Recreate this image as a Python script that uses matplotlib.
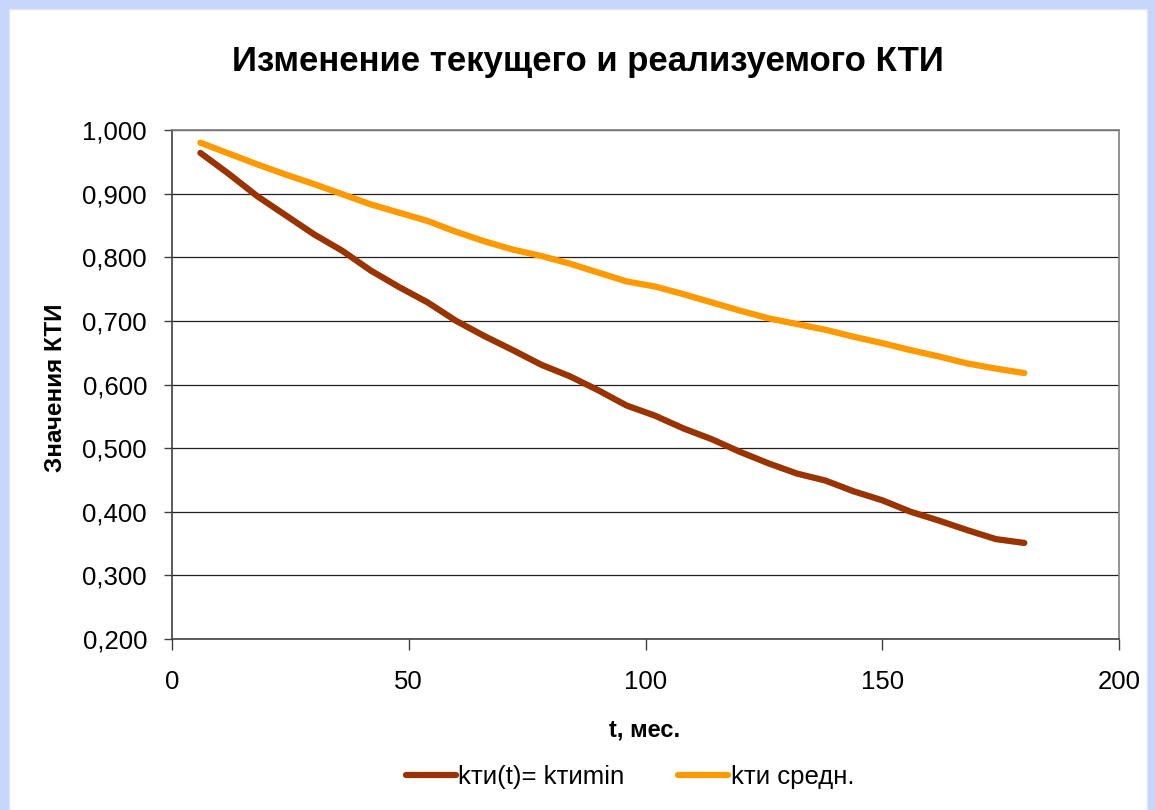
import matplotlib
matplotlib.use("Agg")
import matplotlib.pyplot as plt
from matplotlib.patches import Rectangle
from matplotlib.ticker import FuncFormatter, MultipleLocator

plt.rcParams['font.family'] = ['Liberation Sans', 'DejaVu Sans']

# Months of operation
t_months = [6, 12, 18, 24, 30, 36, 42, 48, 54, 60,
            66, 72, 78, 84, 90, 96, 102, 108, 114, 120,
            126, 132, 138, 144, 150, 156, 162, 168, 174, 180]

# Current KTI, k(t) = k_min
kti_min = [0.964, 0.931, 0.896, 0.866, 0.836, 0.810, 0.779, 0.753, 0.729, 0.700,
           0.676, 0.654, 0.631, 0.613, 0.591, 0.567, 0.551, 0.531, 0.514, 0.494,
           0.476, 0.460, 0.449, 0.432, 0.418, 0.400, 0.386, 0.371, 0.357, 0.351]

# Realised (average) KTI
kti_avg = [0.980, 0.963, 0.946, 0.930, 0.915, 0.899, 0.883, 0.870, 0.857, 0.840,
           0.825, 0.812, 0.802, 0.790, 0.776, 0.762, 0.754, 0.742, 0.729, 0.716,
           0.704, 0.695, 0.686, 0.675, 0.665, 0.654, 0.644, 0.633, 0.625, 0.618]

series_labels = ['kти(t)= kтиmin', 'kти средн.']
title_text = 'Изменение текущего и реализуемого КТИ'
x_label = 't, мес.'
y_label = 'Значения КТИ'

W, H = 1155, 810
fig = plt.figure(figsize=(W / 100, H / 100), dpi=100, facecolor='#C6D6FA')
# white chart sheet inside the blue frame
fig.patches.append(Rectangle((9 / W, 0), (1147 - 9) / W, (H - 9) / H,
                             transform=fig.transFigure, facecolor='white',
                             edgecolor='#DCE6FC', linewidth=1.0, zorder=-5))

ax = fig.add_axes([172 / W, 1 - 639 / H, (1119 - 172) / W, (639 - 130) / H])
ax.set_zorder(2)
ax.set_facecolor('white')

ax.plot(t_months, kti_min, color='#993300', lw=4.5, solid_capstyle='round',
        solid_joinstyle='round', label=series_labels[0], zorder=3)
ax.plot(t_months, kti_avg, color='#FF9900', lw=4.5, solid_capstyle='round',
        solid_joinstyle='round', label=series_labels[1], zorder=3)

ax.set_xlim(0, 200)
ax.set_ylim(0.2, 1.0)
ax.xaxis.set_major_locator(MultipleLocator(50))
ax.yaxis.set_major_locator(MultipleLocator(0.1))
ax.yaxis.set_major_formatter(FuncFormatter(lambda v, p: f'{v:.3f}'.replace('.', ',')))

ax.grid(axis='y', color='#202020', lw=0.9, zorder=1)
ax.set_axisbelow(True)
for side in ('top', 'right'):
    ax.spines[side].set_color('#808080')
    ax.spines[side].set_linewidth(1.2)
for side in ('left', 'bottom'):
    ax.spines[side].set_color('#404040')
    ax.spines[side].set_linewidth(1.2)

ax.tick_params(axis='y', direction='out', length=6, width=1, color='#404040',
               labelsize=18.5, pad=12)
ax.tick_params(axis='x', direction='out', length=8, width=1, color='#404040',
               labelsize=18.5, pad=14)

fig.text(588 / W, 1 - 62 / H, title_text, ha='center', va='center',
         fontsize=25, fontweight='bold')
fig.text(56 / W, 1 - 388 / H, y_label, ha='center', va='center',
         rotation=90, fontsize=17.5, fontweight='bold')
fig.text(645 / W, 1 - 730 / H, x_label, ha='center', va='center',
         fontsize=17, fontweight='bold')

handles, labels = ax.get_legend_handles_labels()
fig.legend(handles, labels, loc='center', bbox_to_anchor=(630 / W, 1 - 777 / H),
           ncol=2, frameon=False, fontsize=18.5, handlelength=1.95,
           handletextpad=0.08, columnspacing=2.1)

fig.savefig('out.png', dpi=100, facecolor=fig.get_facecolor())
